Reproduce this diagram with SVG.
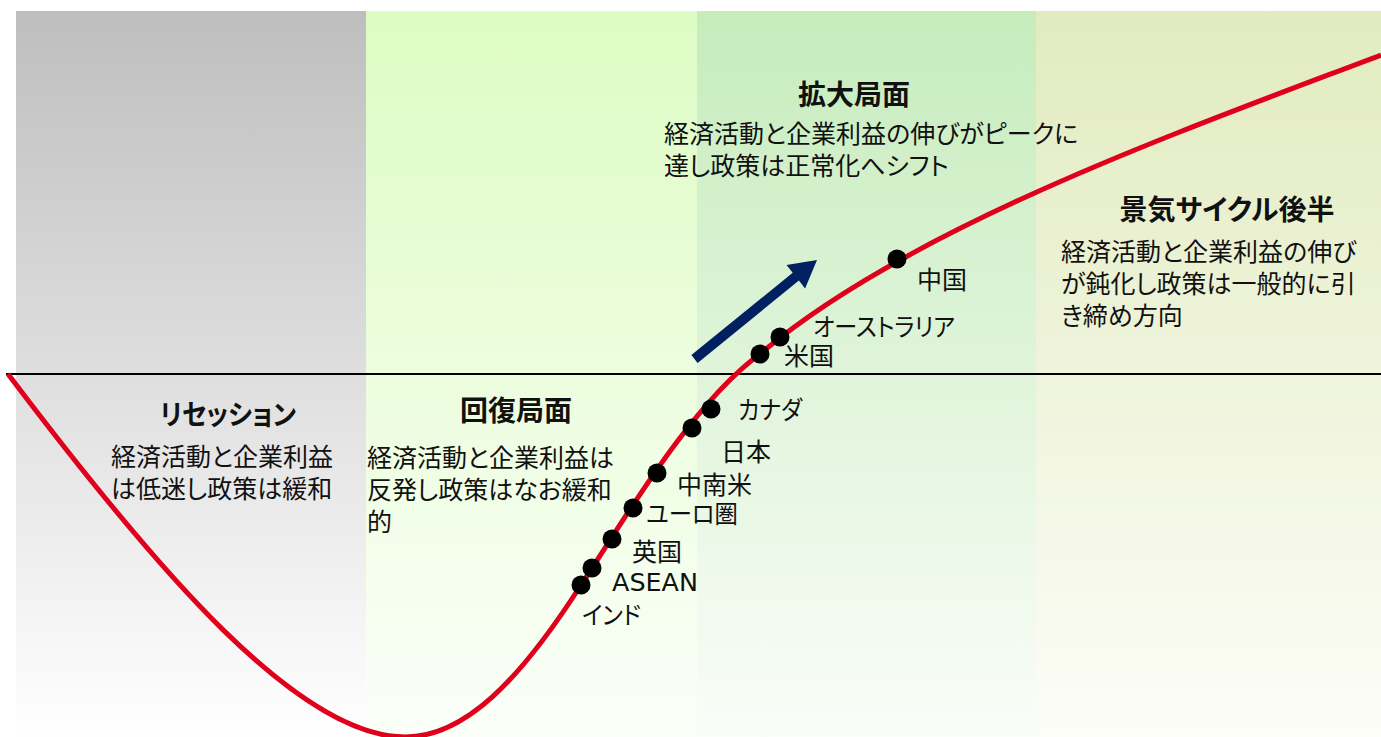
<svg xmlns="http://www.w3.org/2000/svg" width="1381" height="737" viewBox="0 0 1381 737">
<defs>
<linearGradient id="gGray" x1="0" y1="0" x2="0" y2="1"><stop offset="0" stop-color="#BEBEBE"/><stop offset="1" stop-color="#FFFFFF"/></linearGradient>
<linearGradient id="gLight" x1="0" y1="0" x2="0" y2="1"><stop offset="0" stop-color="#DDFCC3"/><stop offset="1" stop-color="#FBFFF9"/></linearGradient>
<linearGradient id="gGreen" x1="0" y1="0" x2="0" y2="1"><stop offset="0" stop-color="#C6ECBC"/><stop offset="1" stop-color="#FAFDF9"/></linearGradient>
<linearGradient id="gOlive" x1="0" y1="0" x2="0" y2="1"><stop offset="0" stop-color="#E2EBBF"/><stop offset="1" stop-color="#FCFDF8"/></linearGradient>
<style>
text{font-family:"Noto Sans CJK JP","Noto Sans CJK SC",sans-serif;fill:#111;font-feature-settings:"palt";}
.title{font-size:28px;font-weight:bold;}
.mid{text-anchor:middle;}
.body{font-size:25px;}
.lbl{font-size:25px;}
.latin{font-family:"DejaVu Sans",sans-serif;font-size:25px;}
.dot{fill:#000;}
</style>
</defs>
<rect width="1381" height="737" fill="#FFFFFF"/>
<g id="panels">
<rect x="16" y="11" width="350" height="726" fill="url(#gGray)"/>
<rect x="366" y="11" width="331" height="726" fill="url(#gLight)"/>
<rect x="697" y="11" width="339" height="726" fill="url(#gGreen)"/>
<rect x="1036" y="11" width="345" height="726" fill="url(#gOlive)"/>
</g>
<g id="connectors">
<line id="axis" x1="6" y1="374" x2="1381" y2="374" stroke="#000" stroke-width="2"/>
<path id="cycle-curve" d="M8 374 C160 575 300 737 405 737 C465 737 520 680 581 585 C621 525 690 405 760 354 C910 227 1181 131 1381 55" fill="none" stroke="#E0001B" stroke-width="5"/>
<polygon id="trend-arrow" points="691.4,355.1 792.7,272.8 786.5,264.9 817,260 805.1,288.5 798.9,280.6 697.6,362.9" fill="#002060"/>
</g>
<g id="phase-recession">
<text class="title" x="160" y="425" textLength="136" lengthAdjust="spacingAndGlyphs">リセッション</text>
<text class="body" x="111" y="466">経済活動と企業利益</text>
<text class="body" x="111" y="498">は低迷し政策は緩和</text>
</g>
<g id="phase-recovery">
<text class="title mid" x="516" y="421">回復局面</text>
<text class="body" x="367" y="467">経済活動と企業利益は</text>
<text class="body" x="367" y="499">反発し政策はなお緩和</text>
<text class="body" x="367" y="531">的</text>
</g>
<g id="phase-expansion">
<text class="title mid" x="854" y="105">拡大局面</text>
<text class="body" x="664" y="143">経済活動と企業利益の伸びがピークに</text>
<text class="body" x="664" y="175">達し政策は正常化へシフト</text>
</g>
<g id="phase-late">
<text class="title mid" x="1227" y="220">景気サイクル後半</text>
<text class="body" x="1061" y="261">経済活動と企業利益の伸び</text>
<text class="body" x="1061" y="293">が鈍化し政策は一般的に引</text>
<text class="body" x="1061" y="325">き締め方向</text>
</g>
<g id="country-india"><circle class="dot" cx="581" cy="585" r="9.5"/><text class="lbl" x="582" y="624" textLength="59" lengthAdjust="spacingAndGlyphs">インド</text></g>
<g id="country-asean"><circle class="dot" cx="592" cy="568" r="9.5"/><text class="latin" x="612" y="591" textLength="86" lengthAdjust="spacingAndGlyphs">ASEAN</text></g>
<g id="country-uk"><circle class="dot" cx="612" cy="539" r="9.5"/><text class="lbl" x="632" y="561">英国</text></g>
<g id="country-euro"><circle class="dot" cx="633" cy="508" r="9.5"/><text class="lbl" x="646" y="523" textLength="92" lengthAdjust="spacingAndGlyphs">ユーロ圏</text></g>
<g id="country-latam"><circle class="dot" cx="657" cy="473" r="9.5"/><text class="lbl" x="677" y="494">中南米</text></g>
<g id="country-japan"><circle class="dot" cx="692" cy="428" r="9.5"/><text class="lbl" x="721" y="461">日本</text></g>
<g id="country-canada"><circle class="dot" cx="711" cy="409" r="9.5"/><text class="lbl" x="738" y="419" textLength="64" lengthAdjust="spacingAndGlyphs">カナダ</text></g>
<g id="country-us"><circle class="dot" cx="760" cy="354" r="9.5"/><text class="lbl" x="784" y="365">米国</text></g>
<g id="country-australia"><circle class="dot" cx="780" cy="337" r="9.5"/><text class="lbl" x="813" y="336" textLength="142" lengthAdjust="spacingAndGlyphs">オーストラリア</text></g>
<g id="country-china"><circle class="dot" cx="897" cy="259" r="9.5"/><text class="lbl" x="917" y="289">中国</text></g>
</svg>
